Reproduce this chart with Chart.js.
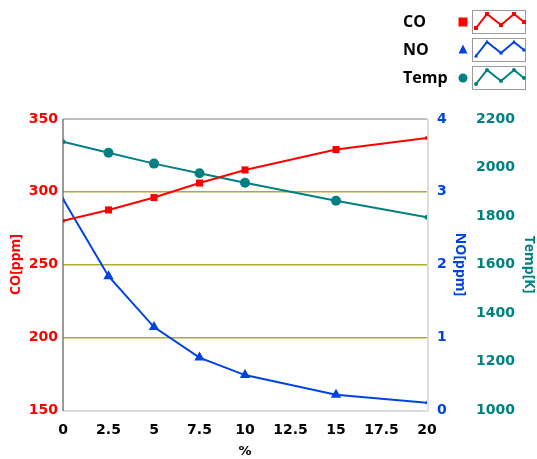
<!DOCTYPE html>
<html lang="ko">
<head>
<meta charset="UTF-8">
<title>CO / NO / Temp</title>
<script src="https://cdn.jsdelivr.net/npm/chart.js"></script>
<style>
    html, body { margin: 0; padding: 0; background: #fff; }
    .chart-box { position: relative; width: 537px; height: 459px; }
</style>
</head>
<body>
<div class="chart-box"><canvas id="emission-chart"></canvas></div>
<script>
// data
const ratio = [0, 2.5, 5, 7.5, 10, 15, 20];
const coValues = [280, 287.5, 296, 306, 315, 329, 337];
const noValues = [2.9, 1.84, 1.14, 0.72, 0.48, 0.21, 0.1];
const tempValues = [2106, 2061, 2016, 1976, 1937, 1863, 1795];

const xTicks = [0, 2.5, 5, 7.5, 10, 12.5, 15, 17.5, 20];
const coTicks = [150, 200, 250, 300, 350];
const noTicks = [0, 1, 2, 3, 4];
const tempTicks = [1000, 1200, 1400, 1600, 1800, 2000, 2200];

const RED = '#ff0000';
const BLUE = '#0044dd';
const TEAL = '#008080';
const OLIVE = '#b0ab2a';

const tickFont = { family: 'DejaVu Sans', size: 14, weight: 'bold' };
const titleFont = { family: 'Open Sans', size: 14, weight: 'bold' };
const plain = v => String(v);

function fixedTicks(list) {
    return scale => { scale.ticks = list.map(v => ({ value: v })); };
}

// frame around the plot area
const frame = {
    id: 'frame',
    beforeDatasetsDraw(chart) {
        const { ctx, chartArea: a } = chart;
        ctx.save();
        ctx.lineWidth = 2;
        ctx.strokeStyle = '#dedede';
        ctx.beginPath();
        ctx.moveTo(a.left, a.bottom + 1); ctx.lineTo(a.right + 1, a.bottom + 1);
        ctx.lineTo(a.right + 1, a.top);
        ctx.stroke();
        ctx.lineWidth = 1.5;
        ctx.strokeStyle = '#a8a8a8';
        ctx.beginPath();
        ctx.moveTo(a.left, a.top); ctx.lineTo(a.right, a.top);
        ctx.stroke();
        ctx.strokeStyle = '#7a7a7a';
        ctx.beginPath();
        ctx.moveTo(a.left, a.top); ctx.lineTo(a.left, a.bottom + 1);
        ctx.stroke();
        ctx.restore();
    }
};

function drawMarker(ctx, style, x, y, r, color) {
    ctx.fillStyle = color;
    ctx.beginPath();
    if (style === 'rect') {
        ctx.rect(x - r, y - r, r * 2, r * 2);
    } else if (style === 'triangle') {
        ctx.moveTo(x, y - r * 1.2);
        ctx.lineTo(x + r, y + r * 0.8);
        ctx.lineTo(x - r, y + r * 0.8);
        ctx.closePath();
    } else {
        ctx.arc(x, y, r, 0, Math.PI * 2);
    }
    ctx.fill();
}

// legend in the top right corner, with a small line sample in a box
const sideLegend = {
    id: 'sideLegend',
    afterDraw(chart) {
        const ctx = chart.ctx;
        ctx.save();
        chart.data.datasets.forEach((ds, i) => {
            const top = 10 + i * 28;
            const cy = top + 12;
            ctx.fillStyle = '#000';
            ctx.font = 'bold 16px "Open Sans"';
            ctx.textBaseline = 'middle';
            ctx.textAlign = 'left';
            ctx.fillText(ds.label, 403, cy);
            drawMarker(ctx, ds.pointStyle, 463, cy, 4.5, ds.borderColor);

            ctx.strokeStyle = '#9a9a9a';
            ctx.lineWidth = 1;
            ctx.strokeRect(472.5, top + 0.5, 53, 23);

            const xs = [476, 487, 501, 514, 524];
            const ys = [top + 18, top + 4, top + 15, top + 4, top + 12];
            ctx.strokeStyle = ds.borderColor;
            ctx.lineWidth = 2;
            ctx.beginPath();
            xs.forEach((x, k) => k ? ctx.lineTo(x, ys[k]) : ctx.moveTo(x, ys[k]));
            ctx.stroke();
            xs.forEach((x, k) => drawMarker(ctx, ds.pointStyle, x, ys[k], 2, ds.borderColor));
        });
        ctx.restore();
    }
};

function series(label, values, color, style, axis, radius) {
    const last = values.length - 1;
    // end points sit on the frame and are drawn small
    const r = c => (c.dataIndex === 0 || c.dataIndex === last) ? 2.5 : radius;
    return {
        label: label,
        data: ratio.map((x, i) => ({ x: x, y: values[i] })),
        yAxisID: axis,
        borderColor: color,
        backgroundColor: color,
        borderWidth: 2,
        pointStyle: style,
        pointRadius: r,
        pointHoverRadius: r,
        pointBorderWidth: 0,
        tension: 0
    };
}

new Chart(document.getElementById('emission-chart'), {
    type: 'line',
    data: {
        datasets: [
            series('CO', coValues, RED, 'rect', 'y', 5),
            series('NO', noValues, BLUE, 'triangle', 'y1', 6),
            series('Temp', tempValues, TEAL, 'circle', 'y2', 5)
        ]
    },
    options: {
        responsive: true,
        maintainAspectRatio: false,
        animation: false,
        layout: { padding: { top: 119, left: 0, right: 0, bottom: 0 } },
        plugins: { legend: { display: false }, tooltip: { enabled: false } },
        scales: {
            x: {
                type: 'linear', min: 0, max: 20,
                afterBuildTicks: fixedTicks(xTicks),
                afterFit: s => { s.height = 49; },
                grid: { display: false, drawTicks: false },
                border: { display: false },
                ticks: { color: '#000', font: tickFont, padding: 12, maxRotation: 0, callback: plain },
                title: { display: true, text: '%', color: '#000', font: { family: 'DejaVu Sans', size: 13, weight: 'bold' }, padding: 0 }
            },
            y: {
                position: 'left', min: 150, max: 350,
                afterBuildTicks: fixedTicks(coTicks),
                afterFit: s => { s.width = 63; },
                grid: {
                    drawTicks: false, lineWidth: 1.5,
                    color: c => (c.tick && c.tick.value > 150 && c.tick.value < 350) ? OLIVE : 'rgba(0,0,0,0)'
                },
                border: { display: false },
                ticks: { color: RED, font: tickFont, padding: 5, callback: plain },
                title: { display: true, text: 'CO[ppm]', color: RED, font: titleFont, padding: { top: 8, bottom: 0 } }
            },
            y1: {
                position: 'right', min: 0, max: 4,
                afterBuildTicks: fixedTicks(noTicks),
                afterFit: s => { s.width = 41; },
                grid: { display: false, drawTicks: false },
                border: { display: false },
                ticks: { color: BLUE, font: tickFont, padding: 10, callback: plain },
                title: { display: true, text: 'NO[ppm]', color: BLUE, font: titleFont, padding: 0 }
            },
            y2: {
                position: 'right', min: 1000, max: 2200,
                afterBuildTicks: fixedTicks(tempTicks),
                afterFit: s => { s.width = 69; },
                grid: { display: false, drawTicks: false },
                border: { display: false },
                ticks: { color: TEAL, font: tickFont, padding: 8, callback: plain },
                title: { display: true, text: 'Temp[K]', color: TEAL, font: titleFont, padding: 0 }
            }
        }
    },
    plugins: [frame, sideLegend]
});
</script>
</body>
</html>
